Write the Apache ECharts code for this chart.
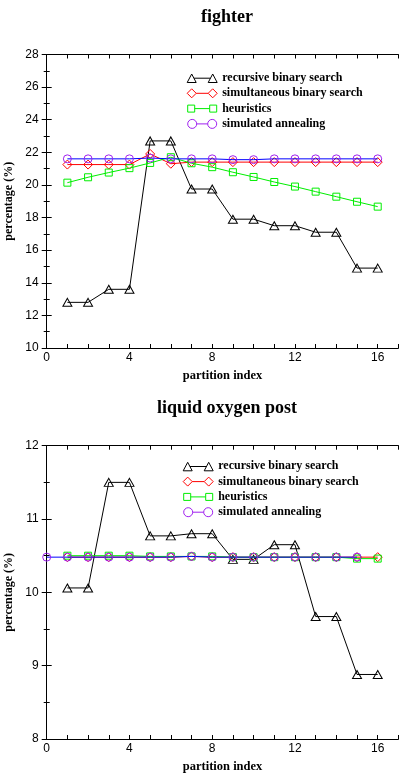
<!DOCTYPE html>
<html>
<head>
<meta charset="utf-8">
<script src="https://cdn.jsdelivr.net/npm/echarts@6/dist/echarts.min.js"></script>
<style>
html,body{margin:0;padding:0;background:#fff;}
#chart{width:399px;height:777px;}
</style>
</head>
<body>
<div id="chart"></div>
<script>
// ---------- data ----------
var partitions = [1,2,3,4,5,6,7,8,9,10,11,12,13,14,15,16];
var loxAnnealingPartitions = [0,1,2,3,4,5,6,7,8,9,10,11,12,13,14,15];
var seriesNames = ['recursive binary search','simultaneous binary search','heuristics','simulated annealing'];
var chartTitles = ['fighter','liquid oxygen post'];
var xTickLabels = [0,4,8,12,16];

var fighterRecursive    = [12.8,12.8,13.6,13.6,22.7,22.7,19.75,19.75,17.9,17.9,17.5,17.5,17.1,17.1,14.9,14.9];
var fighterSimultaneous = [21.25,21.25,21.25,21.25,21.9,21.3,21.4,21.4,21.4,21.4,21.4,21.4,21.4,21.4,21.4,21.4];
var fighterHeuristics   = [20.14,20.47,20.76,21.03,21.35,21.7,21.33,21.09,20.78,20.49,20.18,19.9,19.59,19.28,18.97,18.67];
var fighterAnnealing    = [21.6,21.6,21.6,21.6,21.65,21.6,21.6,21.6,21.55,21.55,21.6,21.6,21.6,21.6,21.6,21.6];

var loxRecursive    = [10.06,10.06,11.5,11.5,10.77,10.77,10.8,10.8,10.45,10.45,10.65,10.65,9.67,9.67,8.88,8.88];
var loxSimultaneous = [10.48,10.48,10.48,10.48,10.48,10.48,10.49,10.48,10.48,10.48,10.48,10.48,10.48,10.48,10.48,10.48];
var loxHeuristics   = [10.5,10.5,10.5,10.5,10.49,10.49,10.49,10.49,10.48,10.48,10.48,10.48,10.48,10.48,10.46,10.46];
var loxAnnealing    = [10.48,10.48,10.48,10.48,10.48,10.48,10.48,10.49,10.48,10.48,10.48,10.48,10.48,10.48,10.48,10.48];

// ---------- styles ----------
var SERIF = '"Liberation Serif","Times New Roman",serif';
var SANS = '"Liberation Sans",Arial,sans-serif';
var styles = [
  {line:'#000000', mark:'#000000', symbol:'triangle', size:[9,8]},
  {line:'#ff0000', mark:'#ff0000', symbol:'diamond', size:[9,9]},
  {line:'#00ee00', mark:'#00ee00', symbol:'rect', size:[7,7]},
  {line:'#0000ff', mark:'#a020f0', symbol:'circle', size:[8,8]}
];
var legendIcons = [
  'path://M0,0M30,10M4.5,1L9,9.5L0,9.5ZM6.8,5.2L23.2,5.2M25.5,1L30,9.5L21,9.5Z',
  'path://M0,0M30,10M0,5L4.5,0.5L9,5L4.5,9.5ZM9,5L21,5M21,5L25.5,0.5L30,5L25.5,9.5Z',
  'path://M0,0M30,10M0.5,1.5L7.5,1.5L7.5,8.5L0.5,8.5ZM7.5,5L22.5,5M22.5,1.5L29.5,1.5L29.5,8.5L22.5,8.5Z',
  'path://M0,0M30,10M0.5,5A4.5,4.5,0,1,1,9.5,5A4.5,4.5,0,1,1,0.5,5ZM9.5,5L20.5,5M20.5,5A4.5,4.5,0,1,1,29.5,5A4.5,4.5,0,1,1,20.5,5Z'
];

function pairs(xs, ys){ return xs.map(function(x,i){ return [x, ys[i]]; }); }

function makeSeries(idx, gridIdx, xs, ys){
  var s = styles[idx];
  return {
    name: seriesNames[idx], type:'line',
    xAxisIndex: gridIdx*2, yAxisIndex: gridIdx*2,
    data: pairs(xs, ys),
    symbol: s.symbol, symbolSize: s.size,
    lineStyle:{color:s.line, width:1},
    itemStyle:{color:'rgba(255,255,255,0)', borderColor:s.mark, borderWidth:1},
    emphasis:{disabled:true},
    animation:false, z: 2+idx
  };
}

var grids = [
  {left:46.7, top:54.5, width:351.7, height:293.5, containLabel:false, outerBoundsMode:'none'},
  {left:46.7, top:445.7, width:351.7, height:293.3, containLabel:false, outerBoundsMode:'none'}
];
var yRanges = [{min:10,max:28,interval:2},{min:8,max:12,interval:1}];

var xAxes = [], yAxes = [];
grids.forEach(function(g, gi){
  xAxes.push({
    type:'value', gridIndex:gi, position:'bottom', min:0, max:17, interval:1,
    name:'partition index', nameLocation:'middle', nameGap:21,
    nameTextStyle:{fontFamily:SERIF, fontWeight:'bold', fontSize:12.5, color:'#000'},
    axisLine:{lineStyle:{color:'#000', width:1}},
    axisTick:{inside:true, length:4, lineStyle:{color:'#000'}},
    axisLabel:{margin:4, fontFamily:SANS, fontSize:12, color:'#000',
      formatter:function(v){ return xTickLabels.indexOf(v) >= 0 ? String(v) : ''; }},
    splitLine:{show:false}
  });
  xAxes.push({
    type:'value', gridIndex:gi, position:'top', min:0, max:17, interval:1,
    axisLine:{lineStyle:{color:'#000', width:1}},
    axisTick:{inside:true, length:4, lineStyle:{color:'#000'}},
    axisLabel:{show:false}, splitLine:{show:false}
  });
  var r = yRanges[gi];
  yAxes.push({
    type:'value', gridIndex:gi, position:'left', min:r.min, max:r.max, interval:r.interval,
    name:'percentage (%)', nameLocation:'middle', nameGap:21, nameRotate:90,
    nameTextStyle:{fontFamily:SERIF, fontWeight:'bold', fontSize:12, color:'#000'},
    axisLine:{show:true, lineStyle:{color:'#000', width:1}},
    axisTick:{show:true, inside:true, length:5, lineStyle:{color:'#000'}},
    minorTick:{show:true, splitNumber:2, length:3, lineStyle:{color:'#000'}},
    axisLabel:{margin:8, fontFamily:SANS, fontSize:12, color:'#000'},
    splitLine:{show:false}
  });
  yAxes.push({
    type:'value', gridIndex:gi, position:'right', min:r.min, max:r.max, interval:r.interval,
    axisLine:{show:true, lineStyle:{color:'#000', width:1}},
    axisTick:{show:true, inside:true, length:5, lineStyle:{color:'#000'}},
    minorTick:{show:true, splitNumber:2, length:3, lineStyle:{color:'#000'}},
    axisLabel:{show:false}, splitLine:{show:false}
  });
});

function legendData(){
  return seriesNames.map(function(n, i){
    return {name:n, icon:legendIcons[i],
      itemStyle:{color:'rgba(255,255,255,0)', borderColor:styles[i].mark, borderWidth:1}};
  });
}

var series = [
  makeSeries(0,0,partitions,fighterRecursive),
  makeSeries(1,0,partitions,fighterSimultaneous),
  makeSeries(2,0,partitions,fighterHeuristics),
  makeSeries(3,0,partitions,fighterAnnealing),
  makeSeries(0,1,partitions,loxRecursive),
  makeSeries(1,1,partitions,loxSimultaneous),
  makeSeries(2,1,partitions,loxHeuristics),
  makeSeries(3,1,loxAnnealingPartitions,loxAnnealing)
];

var option = {
  backgroundColor:'#fff',
  animation:false,
  title:[
    {text:chartTitles[0], left:222, top:3, textAlign:'center',
     textStyle:{fontFamily:SERIF, fontWeight:'bold', fontSize:18, color:'#000'}},
    {text:chartTitles[1], left:222, top:394, textAlign:'center',
     textStyle:{fontFamily:SERIF, fontWeight:'bold', fontSize:18, color:'#000'}}
  ],
  legend:[
    {orient:'vertical', left:186.7, top:72, itemWidth:30, itemHeight:10, itemGap:3.3,
     padding:0, selectedMode:false, data:legendData(),
     textStyle:{fontFamily:SERIF, fontWeight:'bold', fontSize:12, color:'#000'}},
    {orient:'vertical', left:182.7, top:460.3, itemWidth:30, itemHeight:10, itemGap:3.3,
     padding:0, selectedMode:false, data:legendData(),
     textStyle:{fontFamily:SERIF, fontWeight:'bold', fontSize:12, color:'#000'}}
  ],
  grid: grids,
  xAxis: xAxes,
  yAxis: yAxes,
  series: series
};

var chart = echarts.init(document.getElementById('chart'), null, {renderer:'canvas'});
chart.setOption(option);
</script>
</body>
</html>
